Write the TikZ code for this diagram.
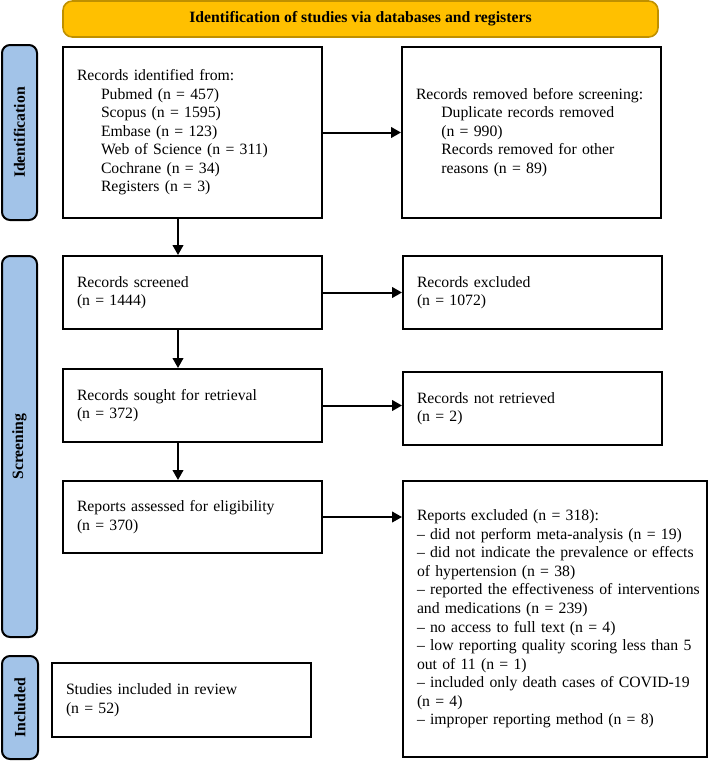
\documentclass[tikz,border=0pt]{standalone}
\usepackage{fontspec}
\setmainfont{Liberation Serif}
\usetikzlibrary{arrows.meta}
\definecolor{bannerfill}{HTML}{FFC000}
\definecolor{bannerdraw}{HTML}{BF9000}
\definecolor{barfill}{HTML}{A2C3E8}
\def\pxu{0.75pt}
\begin{document}
\begin{tikzpicture}[x=0.75pt,y=-0.75pt,
  every node/.style={font=\fontsize{11.8}{13.9}\selectfont},
  box/.style={draw=black, line width=1.5pt, fill=white, rectangle, align=left,
    inner xsep=14*\pxu, inner ysep=2pt},
  banner/.style={draw=bannerdraw, line width=1.2pt, fill=bannerfill, rounded corners=7pt,
    font=\fontsize{11.8}{13.9}\selectfont\bfseries, align=center, inner sep=0pt},
  phase/.style={draw=black, line width=1.5pt, fill=barfill, rounded corners=6pt,
    font=\fontsize{11.8}{13.9}\selectfont\bfseries, inner sep=0pt},
  phasetext/.style={rotate=90, font=\fontsize{11.8}{13.9}\selectfont\bfseries},
  flow/.style={line width=1.5pt, -{Triangle[length=7.5pt,width=8pt]}}
]
\useasboundingbox (0,0) rectangle (709,761);

% banner
\node[banner, minimum width=595*\pxu, minimum height=36*\pxu] (ban) at (360.5,19)
  {Identification of studies via databases and registers};

% phase bars
\node[phase, minimum width=35*\pxu, minimum height=175*\pxu] (p1) at (19.5,132.5) {};
\node[phasetext] (p1t) at (p1.center) {Identification};
\node[phase, minimum width=35*\pxu, minimum height=381*\pxu] (p2) at (19.5,446.5) {};
\node[phasetext] (p2t) at (p2.center) {Screening};
\node[phase, minimum width=36*\pxu, minimum height=103*\pxu] (p3) at (20,707.5) {};
\node[phasetext] (p3t) at (p3.center) {Included};

% boxes
\node[box, text width=231*\pxu, minimum height=171*\pxu] (b1) at (192.5,132.5)
  {Records identified from:\\
   \hspace*{18pt}Pubmed (n = 457)\\
   \hspace*{18pt}Scopus (n = 1595)\\
   \hspace*{18pt}Embase (n = 123)\\
   \hspace*{18pt}Web of Science (n = 311)\\
   \hspace*{18pt}Cochrane (n = 34)\\
   \hspace*{18pt}Registers (n = 3)};
\node[box, text width=231*\pxu, minimum height=171*\pxu] (b2) at (531.5,132.5)
  {\mbox{Records removed before screening:}\\
   \hspace*{19pt}Duplicate records removed\\
   \hspace*{19pt}(n = 990)\\
   \hspace*{19pt}Records removed for other\\
   \hspace*{19pt}reasons (n = 89)};
\node[box, text width=231*\pxu, minimum height=73*\pxu] (b3) at (192.5,292.5)
  {Records screened\\(n = 1444)};
\node[box, text width=231*\pxu, minimum height=73*\pxu] (b4) at (532.5,292.5)
  {Records excluded\\(n = 1072)};
\node[box, text width=231*\pxu, minimum height=73*\pxu] (b5) at (192.5,405.5)
  {Records sought for retrieval\\(n = 372)};
\node[box, text width=231*\pxu, minimum height=73*\pxu] (b6) at (532.5,408.5)
  {Records not retrieved\\(n = 2)};
\node[box, text width=231*\pxu, minimum height=72*\pxu] (b7) at (192.5,517)
  {Reports assessed for eligibility\\(n = 370)};
\node[box, text width=276*\pxu, minimum height=276*\pxu] (b8) at (555,619)
  {\mbox{Reports excluded (n = 318):}\\
   \mbox{– did not perform meta-analysis (n = 19)}\\
   \mbox{– did not indicate the prevalence or effects}\\
   \mbox{of hypertension (n = 38)}\\
   \mbox{– reported the effectiveness of interventions}\\
   \mbox{and medications (n = 239)}\\
   \mbox{– no access to full text (n = 4)}\\
   \mbox{– low reporting quality scoring less than 5}\\
   \mbox{out of 11 (n = 1)}\\
   \mbox{– included only death cases of COVID-19}\\
   \mbox{(n = 4)}\\
   \mbox{– improper reporting method (n = 8)}};
\node[box, text width=231*\pxu, minimum height=74*\pxu] (b9) at (181.5,700)
  {Studies included in review\\(n = 52)};

% connectors
\coordinate (ax) at (178,0);
\draw[flow] (b1.east) -- (b2.west);
\draw[flow] (b3.east) -- (b4.west);
\draw[flow] (b5.east) -- (b5.east -| b6.west);
\draw[flow] (b7.east) -- (b7.east -| b8.west);
\draw[flow] (b1.south -| ax) -- (b3.north -| ax);
\draw[flow] (b3.south -| ax) -- (b5.north -| ax);
\draw[flow] (b5.south -| ax) -- (b7.north -| ax);
\end{tikzpicture}
\end{document}
